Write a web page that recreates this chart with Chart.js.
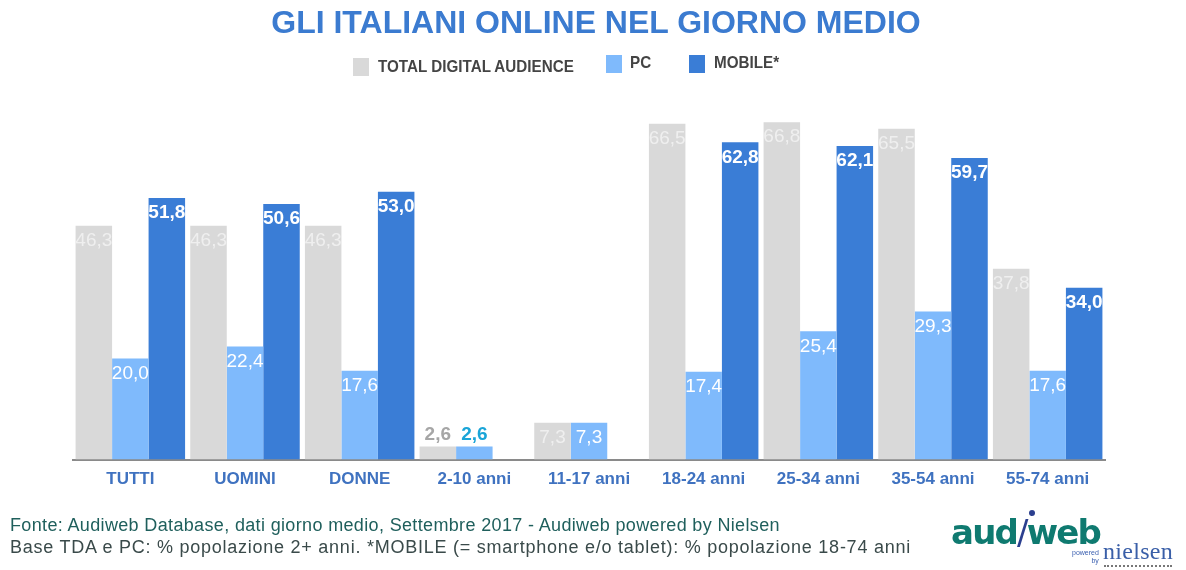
<!DOCTYPE html>
<html><head><meta charset="utf-8">
<script src="https://cdn.jsdelivr.net/npm/chart.js@4"></script>
<style>
html,body{margin:0;padding:0;background:#fff;width:1186px;height:570px;overflow:hidden;font-family:"Liberation Sans",Arial,sans-serif}
#wrap{position:relative;width:1186px;height:570px}
canvas{position:absolute;left:0;top:0}
.t{position:absolute;white-space:nowrap}
#title{left:0;width:1192px;text-align:center;top:4px;font-size:32px;font-weight:bold;color:#3b7bd0;line-height:36px}
.lg{font-size:17px;font-weight:bold;color:#444;transform-origin:left center;transform:scaleX(.895)}
.sw{position:absolute;width:16px}
.fn{font-size:18px;line-height:20px}
</style></head><body>
<div id="wrap">
<canvas id="c" width="1186" height="570"></canvas>
<div class="t" id="title">GLI ITALIANI ONLINE NEL GIORNO MEDIO</div>
<div class="sw" style="left:353px;top:58px;height:18px;background:#d9d9d9"></div>
<div class="t lg" style="left:378px;top:57px">TOTAL DIGITAL AUDIENCE</div>
<div class="sw" style="left:606px;top:55px;height:18px;background:#7fbafc"></div>
<div class="t lg" style="left:630px;top:53px">PC</div>
<div class="sw" style="left:689px;top:55px;height:18px;background:#3a7dd6"></div>
<div class="t lg" style="left:714px;top:53px">MOBILE*</div>
<div class="t fn" style="left:10px;top:515px;color:#1f5f5c;letter-spacing:.35px">Fonte: Audiweb Database, dati giorno medio, Settembre 2017 - Audiweb powered by Nielsen</div>
<div class="t fn" style="left:10px;top:537px;color:#3a4a4a;letter-spacing:.75px">Base TDA e PC: % popolazione 2+ anni. *MOBILE (= smartphone e/o tablet): % popolazione 18-74 anni</div>
<div class="t" style="left:951px;top:510px;font:bold 34px 'DejaVu Sans';letter-spacing:-1.8px;color:#0f7a70;line-height:44px">aud<span style="color:#2b3f8f;font-weight:normal">/</span>web</div>
<div style="position:absolute;left:1029px;top:510px;width:6px;height:6px;border-radius:50%;background:#2b3f8f"></div>
<div class="t" style="left:1072px;top:549px;font-size:7px;color:#3a5fb0;line-height:8px;text-align:right">powered<br>by</div>
<div class="t" style="left:1103px;top:538px;font:24px 'Liberation Serif';color:#3a5fa8;line-height:26px;letter-spacing:0.3px">nielsen</div>
<div style="position:absolute;left:1104px;top:565px;width:68px;border-top:2px dotted #777"></div>
</div>
<script>
const categories=["TUTTI","UOMINI","DONNE","2-10 anni","11-17 anni","18-24 anni","25-34 anni","35-54 anni","55-74 anni"];
const tda=[46.3,46.3,46.3,2.6,7.3,66.5,66.8,65.5,37.8];
const pc=[20.0,22.4,17.6,2.6,7.3,17.4,25.4,29.3,17.6];
const mobile=[51.8,50.6,53.0,null,null,62.8,62.1,59.7,34.0];
const labelPlugin={id:'vals',afterDatasetsDraw(chart){
  const ctx=chart.ctx;
  chart.data.datasets.forEach((ds,di)=>{
    chart.getDatasetMeta(di).data.forEach((el,i)=>{
      const v=ds.data[i]; if(v==null)return;
      const small=(i===3);
      let color=di===0?'#efefef':'#ffffff', weight=di===2?'bold':'normal';
      let y=el.y+15;
      if(small){y=el.y-12;weight='bold';color=di===0?'#a6a6a6':'#1aa5d8';}
      ctx.save();
      ctx.font=weight+' 19px "Liberation Sans"';
      ctx.fillStyle=color;ctx.textAlign='center';ctx.textBaseline='middle';
      ctx.fillText(v.toFixed(1).replace('.',','),el.x,y);
      ctx.restore();
    });
  });
}};
new Chart(document.getElementById('c'),{
  type:'bar',
  data:{labels:categories,datasets:[
    {label:'TOTAL DIGITAL AUDIENCE',data:tda,backgroundColor:'#d9d9d9'},
    {label:'PC',data:pc,backgroundColor:'#7fbafc'},
    {label:'MOBILE*',data:mobile,backgroundColor:'#3a7dd6'}
  ]},
  options:{
    responsive:false,animation:false,
    layout:{padding:{left:73,right:81,top:106,bottom:70}},
    datasets:{bar:{categoryPercentage:0.955,barPercentage:1}},
    plugins:{legend:{display:false},title:{display:false},tooltip:{enabled:false}},
    scales:{
      x:{grid:{display:false,drawTicks:false},border:{color:'#8a8a8a',width:2},
         ticks:{color:'#3f72c0',font:{family:'"Liberation Sans"',size:17,weight:'bold'},padding:10,maxRotation:0}},
      y:{display:false,min:0,max:70}
    }
  },
  plugins:[labelPlugin]
});
</script>
</body></html>
